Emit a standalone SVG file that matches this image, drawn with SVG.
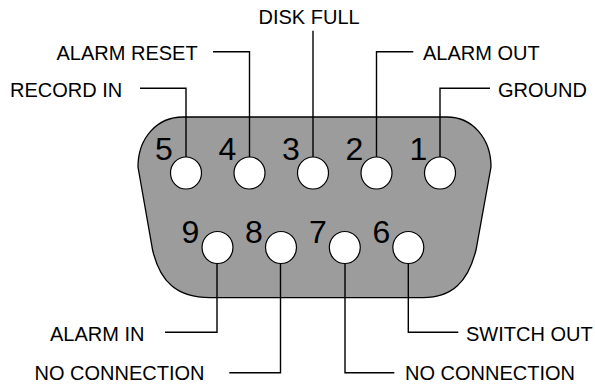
<svg xmlns="http://www.w3.org/2000/svg" width="595" height="387" viewBox="0 0 595 387">
<style>
.lbl{font-family:"Liberation Sans",Arial,sans-serif;font-size:20px;fill:#000}
.num{font-family:"Liberation Sans",Arial,sans-serif;font-size:32px;fill:#000}
.pin{fill:#fff;stroke:#000;stroke-width:1.2}
.wire{fill:none;stroke:#000;stroke-width:1.4}
</style>
<rect width="595" height="387" fill="#fff"/>
<g id="connector-body">
<path d="M183,117 H447 C472,117 491,138 491,167 L476,250 C468,282 452,297.7 423,297.7 H210 C177,297.7 160,282 152.6,250 L138,167 C138,138 157,117 183,117 Z" fill="#9c9c9c" stroke="#000" stroke-width="1.3"/>
</g>
<g id="connectors">
<path class="wire" d="M140,88.3 H186 V157"/>
<path class="wire" d="M213,51.7 H249.5 V157"/>
<path class="wire" d="M313,30.7 V157"/>
<path class="wire" d="M413.3,51.7 H376.5 V157"/>
<path class="wire" d="M490,88.3 H440 V157"/>
<path class="wire" d="M165,332.3 H217 V263.5"/>
<path class="wire" d="M229.3,372.7 H280.5 V263.5"/>
<path class="wire" d="M394.3,372.7 H345 V263.5"/>
<path class="wire" d="M458.3,332.3 H408.3 V263.5"/>
</g>
<g id="pin5"><ellipse class="pin" cx="186" cy="173" rx="15.5" ry="16"/><text class="num" x="155" y="160">5</text></g>
<g id="pin4"><ellipse class="pin" cx="249.5" cy="173" rx="15.5" ry="16"/><text class="num" x="218.5" y="160">4</text></g>
<g id="pin3"><ellipse class="pin" cx="313" cy="173" rx="15.5" ry="16"/><text class="num" x="282" y="160">3</text></g>
<g id="pin2"><ellipse class="pin" cx="376.5" cy="173" rx="15.5" ry="16"/><text class="num" x="345.5" y="160">2</text></g>
<g id="pin1"><ellipse class="pin" cx="440" cy="173" rx="15.5" ry="16"/><text class="num" x="409.5" y="160">1</text></g>
<g id="pin9"><ellipse class="pin" cx="217.5" cy="247.5" rx="15.5" ry="16"/><text class="num" x="181.5" y="243">9</text></g>
<g id="pin8"><ellipse class="pin" cx="281" cy="247.5" rx="15.5" ry="16"/><text class="num" x="245" y="243">8</text></g>
<g id="pin7"><ellipse class="pin" cx="344.8" cy="247.5" rx="15.5" ry="16"/><text class="num" x="309" y="243">7</text></g>
<g id="pin6"><ellipse class="pin" cx="408.3" cy="247.5" rx="15.5" ry="16"/><text class="num" x="372.5" y="243">6</text></g>
<g id="label-record-in"><text class="lbl" x="10" y="96.7">RECORD IN</text></g>
<g id="label-alarm-reset"><text class="lbl" x="56.5" y="60">ALARM RESET</text></g>
<g id="label-disk-full"><text class="lbl" x="258.5" y="24">DISK FULL</text></g>
<g id="label-alarm-out"><text class="lbl" x="423" y="60">ALARM OUT</text></g>
<g id="label-ground"><text class="lbl" x="498" y="96.7">GROUND</text></g>
<g id="label-alarm-in"><text class="lbl" x="50" y="341">ALARM IN</text></g>
<g id="label-no-connection-8"><text class="lbl" x="34.5" y="380">NO CONNECTION</text></g>
<g id="label-no-connection-7"><text class="lbl" x="405" y="380">NO CONNECTION</text></g>
<g id="label-switch-out"><text class="lbl" x="466" y="341">SWITCH OUT</text></g>
</svg>
